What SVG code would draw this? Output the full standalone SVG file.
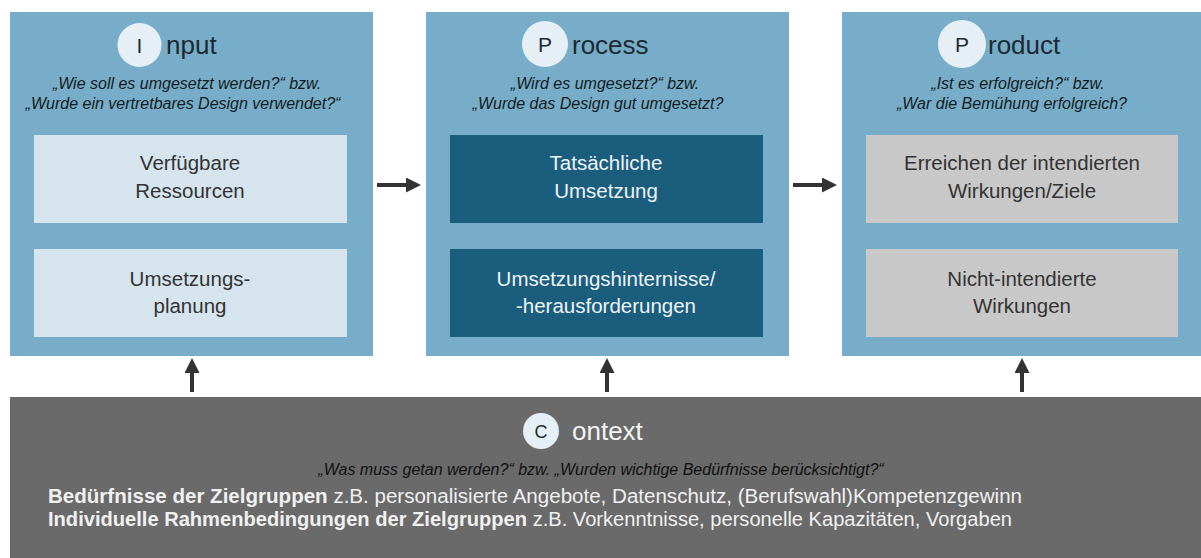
<svg xmlns="http://www.w3.org/2000/svg" width="1201" height="558" viewBox="0 0 1201 558">
<defs>
<style>
.outer{fill:#77adc8}
.inLight{fill:#d6e4ee}
.inDark{fill:#1b5d7d}
.inGray{fill:#c8c8c8}
.circ{fill:#e6eff5}
.title{font-family:"Liberation Sans",Arial,sans-serif;font-size:26px;fill:#1d2a33}
.letter{font-family:"Liberation Sans",Arial,sans-serif;font-size:21px;fill:#1d2a33;text-anchor:middle}
.q{font-family:"Liberation Sans",Arial,sans-serif;font-size:16px;font-style:italic;fill:#141c22;text-anchor:middle}
.lbl{font-family:"Liberation Sans",Arial,sans-serif;font-size:20.5px;fill:#333;text-anchor:middle}
.lblW{font-family:"Liberation Sans",Arial,sans-serif;font-size:20.5px;fill:#eef4f8;text-anchor:middle}
.conn{stroke:#333;stroke-width:4;fill:none}
.ctx{font-family:"Liberation Sans",Arial,sans-serif;font-size:20px;fill:#f0f0f0}
</style>
<marker id="ah" markerUnits="userSpaceOnUse" markerWidth="15" markerHeight="15" refX="0" refY="7.5" orient="auto">
<path d="M0,0 L15,7.5 L0,15 z" fill="#333"/>
</marker>
</defs>
<rect width="1201" height="558" fill="#ffffff"/>

<g id="input">
<rect class="outer" x="10" y="12" width="363" height="344"/>
<circle class="circ" cx="139.5" cy="45" r="22"/>
<text class="letter" x="139.5" y="52.5">I</text>
<text class="title" x="166" y="54">nput</text>
<text class="q" x="187" y="89">„Wie soll es umgesetzt werden?“ bzw.</text>
<text class="q" x="183" y="109">„Wurde ein vertretbares Design verwendet?“</text>
<rect class="inLight" x="34" y="135" width="313" height="88"/>
<text class="lbl" x="190" y="170">Verfügbare</text>
<text class="lbl" x="190" y="198">Ressourcen</text>
<rect class="inLight" x="34" y="249" width="313" height="88"/>
<text class="lbl" x="190" y="286">Umsetzungs-</text>
<text class="lbl" x="190" y="313">planung</text>
</g>

<g id="process">
<rect class="outer" x="426" y="12" width="363" height="344"/>
<circle class="circ" cx="545" cy="44" r="23"/>
<text class="letter" x="545" y="51.5">P</text>
<text class="title" x="572" y="54">rocess</text>
<text class="q" x="605" y="89">„Wird es umgesetzt?“ bzw.</text>
<text class="q" x="598" y="109">„Wurde das Design gut umgesetzt?</text>
<rect class="inDark" x="450" y="135" width="313" height="88"/>
<text class="lblW" x="606" y="170">Tatsächliche</text>
<text class="lblW" x="606" y="198">Umsetzung</text>
<rect class="inDark" x="450" y="249" width="313" height="88"/>
<text class="lblW" x="606" y="286">Umsetzungshinternisse/</text>
<text class="lblW" x="606" y="313">-herausforderungen</text>
</g>

<g id="product">
<rect class="outer" x="842" y="12" width="365" height="344"/>
<circle class="circ" cx="962" cy="44" r="24"/>
<text class="letter" x="962" y="51.5">P</text>
<text class="title" x="988" y="54">roduct</text>
<text class="q" x="1018" y="89">„Ist es erfolgreich?“ bzw.</text>
<text class="q" x="1012" y="109">„War die Bemühung erfolgreich?</text>
<rect class="inGray" x="866" y="135" width="312" height="88"/>
<text class="lbl" x="1022" y="170">Erreichen der intendierten</text>
<text class="lbl" x="1022" y="198">Wirkungen/Ziele</text>
<rect class="inGray" x="866" y="249" width="312" height="88"/>
<text class="lbl" x="1022" y="286">Nicht-intendierte</text>
<text class="lbl" x="1022" y="313">Wirkungen</text>
</g>

<g id="context">
<rect x="10" y="397" width="1195" height="165" fill="#6a6a6a"/>
<circle class="circ" cx="541" cy="431" r="18"/>
<text class="letter" x="541" y="438" style="font-size:18px">C</text>
<text class="title" x="572" y="440" style="fill:#f4f4f4">ontext</text>
<text class="q" x="601" y="475" style="fill:#111">„Was muss getan werden?“ bzw. „Wurden wichtige Bedürfnisse berücksichtigt?“</text>
<text class="ctx" x="48" y="503" textLength="974" lengthAdjust="spacingAndGlyphs"><tspan font-weight="bold">Bedürfnisse der Zielgruppen</tspan> z.B. personalisierte Angebote, Datenschutz, (Berufswahl)Kompetenzgewinn</text>
<text class="ctx" x="48" y="526" textLength="964" lengthAdjust="spacingAndGlyphs"><tspan font-weight="bold">Individuelle Rahmenbedingungen der Zielgruppen</tspan> z.B. Vorkenntnisse, personelle Kapazitäten, Vorgaben</text>
</g>

<g id="connectors">
<line class="conn" x1="377" y1="185" x2="406" y2="185" marker-end="url(#ah)"/>
<line class="conn" x1="793" y1="185" x2="822" y2="185" marker-end="url(#ah)"/>
<line class="conn" x1="192" y1="392" x2="192" y2="373" marker-end="url(#ah)"/>
<line class="conn" x1="607" y1="392" x2="607" y2="373" marker-end="url(#ah)"/>
<line class="conn" x1="1022" y1="392" x2="1022" y2="373" marker-end="url(#ah)"/>
</g>
</svg>
